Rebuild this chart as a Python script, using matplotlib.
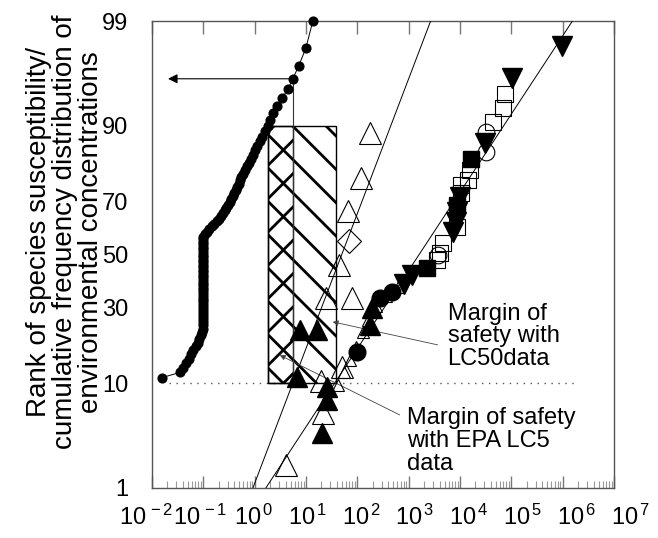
import numpy as np
import matplotlib
matplotlib.use("Agg")
import matplotlib.pyplot as plt
from matplotlib.patches import Rectangle
from matplotlib.ticker import FixedLocator, NullFormatter, LogLocator
from statistics import NormalDist

plt.rcParams['font.family'] = ['Liberation Sans', 'DejaVu Sans']
plt.rcParams['mathtext.fontset'] = 'custom'
plt.rcParams['mathtext.rm'] = 'Liberation Sans'
plt.rcParams['mathtext.it'] = 'Liberation Sans'
plt.rcParams['hatch.linewidth'] = 2.0

# ---------------- data ----------------
# environmental concentrations (cumulative %, concentration)
env_p = list(range(11, 100))
env_x = [0.0157, 0.035, 0.040, 0.046, 0.0525, 0.057, 0.064, 0.072, 0.078, 0.084,
         0.090, 0.095, 0.098] + [0.1] * 34 + [
         0.11, 0.1175, 0.1315, 0.147, 0.1644, 0.184, 0.201, 0.22, 0.24, 0.263,
         0.281, 0.301, 0.329, 0.352, 0.3767, 0.4027, 0.4305, 0.4606, 0.4927, 0.527,
         0.539, 0.5894, 0.6446, 0.705, 0.771, 0.843, 0.9226, 1.009, 1.128, 1.262,
         1.412, 1.579, 1.806, 2.02, 2.26, 2.70, 3.38, 4.43, 5.54, 7.24, 9.9, 13.6]

# species sensitivity data
lc5_open_tri_x = [174, 116, 65, 43.5, 77.8, 24.3, 49.7, 19.4, 21.2, 4.05]
lc5_open_tri_p = [88.7, 77.7, 66.8, 45.8, 33.2, 33.2, 13.1, 10.4, 5.7, 1.8]

filled_tri_up_x = [7.57, 16.2, 6.62, 25.4, 25.4, 20.3, 190, 174]
filled_tri_up_p = [22.6, 22.6, 11.1, 9.3, 7.4, 3.8, 29.7, 24.1]

filled_circ_x = [467, 273, 97]
filled_circ_p = [35.4, 33.2, 16.6]

filled_tri_dn_x = [9.9e5, 1.01e5, 30100, 9820, 8590, 8200, 7180, 1143, 800]
filled_tri_dn_p = [98.1, 96.1, 86.7, 71.7, 66.4, 62.7, 58.9, 41.9, 38.4]

filled_sq_x = [16100, 8590, 2240]
filled_sq_p = [82.9, 68.9, 44.7]

open_sq_x = [73800, 67400, 43100, 15400, 14060, 10300, 10300, 8590, 4590, 4010, 3510]
open_sq_p = [94.5, 92.8, 90.7, 80.0, 77.1, 75.6, 73.0, 60.8, 54.6, 50.6, 47.8]

open_circ_x = [31500, 31500, 3660]
open_circ_p = [88.9, 84.6, 49.8]

open_dia_x = [68]
open_dia_p = [55.3]

small_open_tri_x = [41.6, 54.3, 71.1, 93, 127, 159, 228, 357, 611]
small_open_tri_p = [9.7, 12.1, 14.7, 17.9, 22.0, 25.7, 30.4, 34.0, 37.3]

# fitted distributions (end points)
fitA_x = [0.923, 2680]
fitA_p = [1, 99]
fitB_x = [1.65, 1.55e6]
fitB_p = [1, 99]

# margin of safety box
box_left = 1.806       # 90th percentile of environmental concentrations
box_mid = 5.54         # 10th percentile of LC5 distribution
box_right = 38.0       # 10th percentile of LC50 distribution
box_low, box_high = 10, 90
arrow_p = 96
arrow_end_x = 0.0205
dotted_x = [0.021, 2.0e6]
dotted_p = [10, 10]

y_ticks = [1, 10, 30, 50, 70, 90, 99]
y_tick_marks = [30, 50, 70, 90]
x_tick_exps = [-2, -1, 0, 1, 2, 3, 4, 5, 6, 7]

# ---------------- probit scale ----------------
_nd = NormalDist()
_ppf = np.vectorize(_nd.inv_cdf, otypes=[float])
_cdf = np.vectorize(_nd.cdf, otypes=[float])


def fwd(p):
    p = np.clip(np.asarray(p, dtype=float) / 100.0, 1e-9, 1 - 1e-9)
    return _ppf(p)


def inv(z):
    return _cdf(np.asarray(z, dtype=float)) * 100.0


W, H = 658, 538
fig = plt.figure(figsize=(W / 100, H / 100), dpi=100)
ax = fig.add_axes([152 / W, 1 - 488 / H, (614 - 152) / W, (488 - 21) / H])
ax.set_xscale('log')
ax.set_yscale('function', functions=(fwd, inv))
ax.set_xlim(1e-2, 1e7)
ax.set_ylim(1, 99)

spine_c = '#555555'
for s in ax.spines.values():
    s.set_color(spine_c)
    s.set_linewidth(1.0)

# y ticks
ax.yaxis.set_major_locator(FixedLocator(y_ticks))
ax.set_yticklabels([str(v) for v in y_ticks], fontsize=17)
ax.yaxis.set_minor_locator(FixedLocator(y_tick_marks))
ax.yaxis.set_minor_formatter(NullFormatter())
ax.tick_params(axis='y', which='major', length=0, pad=17)
ax.tick_params(axis='y', which='minor', length=10, direction='in', left=True,
               right=True, color='#777777', width=1.2)

# x ticks
ax.xaxis.set_major_locator(FixedLocator([10.0 ** e for e in x_tick_exps]))
ax.xaxis.set_minor_locator(LogLocator(base=10, subs=np.arange(2, 10), numticks=30))
ax.xaxis.set_major_formatter(NullFormatter())
ax.xaxis.set_minor_formatter(NullFormatter())
ax.tick_params(axis='x', which='major', direction='in', length=9, top=True,
               bottom=True, color='#777777', width=1.0)
ax.tick_params(axis='x', which='minor', direction='in', length=5, top=False,
               bottom=True, color='#999999', width=0.8)

# hatched margin-of-safety boxes
ax.add_patch(Rectangle((box_left, box_low), box_right - box_left, box_high - box_low,
                       fill=False, hatch='\\', edgecolor='black', lw=1.0, zorder=2))
ax.add_patch(Rectangle((box_left, box_low), box_mid - box_left, box_high - box_low,
                       fill=False, hatch='/', edgecolor='black', lw=1.0, zorder=2))
ax.plot([box_mid, box_mid], [box_low, arrow_p], color='#333333', lw=0.8, zorder=2)
ax.annotate('', xy=(arrow_end_x, arrow_p), xytext=(box_mid, arrow_p),
            arrowprops=dict(arrowstyle='-|>', color='black', lw=0.8,
                            mutation_scale=14, shrinkA=0, shrinkB=0))

# dotted 10 % line
ax.plot(dotted_x, dotted_p, color='#555555', lw=1.0, linestyle=(0, (1, 4)), zorder=1)

# fitted lines
ax.plot(fitA_x, fitA_p, color='black', lw=0.7, zorder=3)
ax.plot(fitB_x, fitB_p, color='black', lw=0.7, zorder=3)

# environmental concentrations
ax.plot(env_x, env_p, 'o-', color='black', ms=6.3, lw=0.7, zorder=4, clip_on=False)

# species data
mk = dict(linestyle='none', zorder=5, clip_on=False)
ax.plot(lc5_open_tri_x, lc5_open_tri_p, '^', mfc='none', mec='black', ms=16, mew=0.8, **mk)
ax.plot(small_open_tri_x, small_open_tri_p, '^', mfc='none', mec='black', ms=9, mew=0.8, **mk)
ax.plot(filled_tri_up_x, filled_tri_up_p, '^', color='black', ms=14, **mk)
ax.plot(filled_circ_x, filled_circ_p, 'o', color='black', ms=12, **mk)
ax.plot(filled_tri_dn_x, filled_tri_dn_p, 'v', color='black', ms=14, **mk)
ax.plot(filled_sq_x, filled_sq_p, 's', color='black', ms=11, **mk)
ax.plot(open_sq_x, open_sq_p, 's', mfc='none', mec='black', ms=11, mew=0.8, **mk)
ax.plot(open_circ_x, open_circ_p, 'o', mfc='none', mec='black', ms=12, mew=0.8, **mk)
ax.plot(open_dia_x, open_dia_p, 'D', mfc='none', mec='black', ms=12, mew=0.8, **mk)

# annotations
ax.annotate('', xy=(33.2, 25.1), xytext=(3660, 18.4),
            arrowprops=dict(arrowstyle='-|>', color='#444444', lw=0.6,
                            mutation_scale=8, shrinkA=0, shrinkB=0))
ax.annotate('', xy=(3.09, 15.8), xytext=(668, 5.5),
            arrowprops=dict(arrowstyle='-|>', color='#444444', lw=0.6,
                            mutation_scale=8, shrinkA=0, shrinkB=0))
# va='baseline' on multi-line text aligns the last line's baseline
ax.text(5740, 13.5, 'Margin of\nsafety with\nLC50data', fontsize=17,
        ha='left', va='baseline', linespacing=1.05, zorder=6)
ax.text(914, 1.59, 'Margin of safety\nwith EPA LC5\ndata', fontsize=17,
        ha='left', va='baseline', linespacing=1.05, zorder=6)

# x tick labels (typed row under the axis)
for i, e in enumerate(x_tick_exps):
    cx = 146 + i * 53.8
    fig.text(cx / W, 1 - 517 / H, '10$^{\\,%d}$' % e, fontsize=17,
             ha='center', va='center')

# y axis label
fig.text(65 / W, 1 - 232 / H,
         'Rank of species susceptibility/\ncumulative frequency distribution of\n'
         'environmental concentrations',
         rotation=90, ha='center', va='center', multialignment='center',
         fontsize=20, linespacing=1.0)

fig.savefig('out.png', dpi=100)
